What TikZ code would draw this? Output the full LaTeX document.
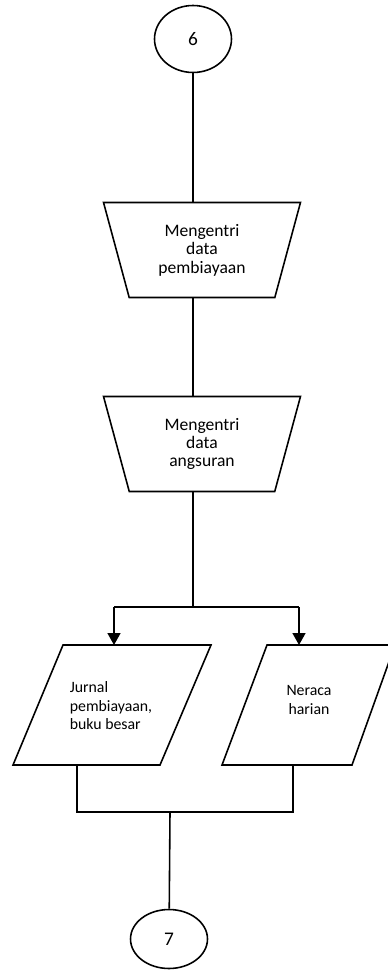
\documentclass[tikz,border=0pt]{standalone}
\usepackage{fontspec}
\setmainfont{Carlito}
\usetikzlibrary{shapes.geometric,arrows.meta}

\begin{document}
\begin{tikzpicture}[x=0.02cm,y=-0.02cm,line width=0.9pt,
    conn/.style={ellipse, draw, inner sep=0pt, minimum width=1.54cm,
      minimum height=1.34cm, font=\fontsize{11}{12}\selectfont},
    manual/.style={trapezium, draw, shape border rotate=180,
      trapezium left angle=68, trapezium right angle=68,
      trapezium stretches body, minimum width=3.94cm, minimum height=1.9cm,
      align=center, font=\fontsize{10}{10.5}\selectfont},
    report/.style={inner sep=0pt, font=\fontsize{9}{10.5}\selectfont},
    flow/.style={-{Triangle[width=0.26cm,length=0.24cm]}}]
  \useasboundingbox (0,0) rectangle (388,979);

  % connectors and process boxes
  \node[conn] (c6) at (193,39) {6};
  \node[manual] (entri1) at (202,250) {Mengentri\\data\\pembiayaan};
  \node[manual] (entri2) at (202,444) {Mengentri\\data\\angsuran};

  % outputs
  \draw (63,645) coordinate (jurnaltop) -- (211,645) -- (160,765)
    -- (13,765) coordinate (jurnalbot) -- cycle;
  \draw (267,645) coordinate (neracatop) -- (395,645) -- (352,765)
    -- (222,765) coordinate (neracabot) -- cycle;
  \node[report, align=left] (jurnal) at (111,706)
    {Jurnal\\pembiayaan,\\buku besar};
  \node[report, align=center] (neraca) at (309,700) {Neraca\\harian};
  \node[conn, minimum height=1.18cm] (c7) at (169,939) {7};

  % branch and join points
  \coordinate (fork) at (193,607);
  \coordinate (forkl) at (114,607);
  \coordinate (forkr) at (299,607);
  \coordinate (joinl) at (77,812);
  \coordinate (joinr) at (293,812);
  \coordinate (joinm) at (170,812);

  \draw (c6) -- (c6 |- entri1.north);
  \draw (c6 |- entri1.south) -- (c6 |- entri2.north);
  \draw (c6 |- entri2.south) -- (fork);
  \draw (forkl) -- (forkr);
  \draw[flow] (forkl) -- (forkl |- jurnaltop);
  \draw[flow] (forkr) -- (forkr |- neracatop);
  \draw (joinl |- jurnalbot) -- (joinl) -- (joinr) -- (joinr |- neracabot);
  \draw (joinm) -- (c7);
\end{tikzpicture}
\end{document}
